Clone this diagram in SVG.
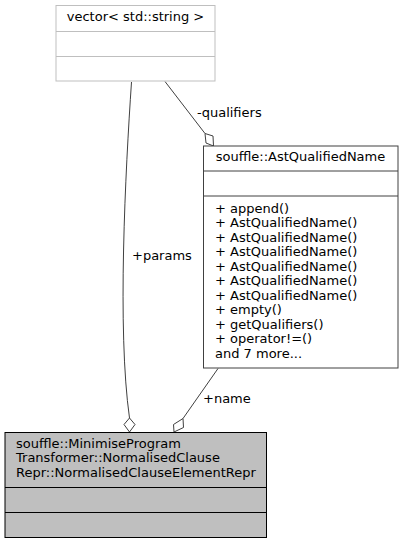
<svg xmlns="http://www.w3.org/2000/svg" width="401" height="544" viewBox="0 0 401 544">
<style>
text{font-family:"DejaVu Sans",sans-serif;font-size:13px;fill:#000}
.c{text-anchor:middle}
.box{fill:#fff;stroke:#404040;stroke-width:1}
.grey{fill:#fff;stroke:#bfbfbf;stroke-width:1}
.main{fill:#bfbfbf;stroke:#000;stroke-width:1}
.edge{fill:none;stroke:#404040;stroke-width:1}
.dia{fill:#fff;stroke:#404040;stroke-width:1}
</style>
<rect width="401" height="544" fill="#fff"/>
<g id="edges">
<path class="edge" d="M131.5,82 C125.5,170 117,330 129.5,418"/>
<polygon class="dia" points="129.5,418 135,424.5 129.5,432 124,424.5"/>
<text x="132" y="260">+params</text>
<path class="edge" d="M165,81.5 L205,133.5"/>
<polygon class="dia" points="205,133.5 213,136 213.5,146 206,143"/>
<text x="197" y="116.5">-qualifiers</text>
<path class="edge" d="M218,368.5 L183,418.5"/>
<polygon class="dia" points="183,418.5 183.5,427.5 174,432 173.5,424.5"/>
<text x="203" y="403">+name</text>
</g>
<g id="node_vector">
<rect class="grey" x="56" y="5.5" width="159" height="75.5"/>
<line class="grey" x1="56" y1="31.5" x2="215" y2="31.5"/>
<line class="grey" x1="56" y1="56.5" x2="215" y2="56.5"/>
<text class="c" x="135.5" y="20.5">vector&lt; std::string &gt;</text>
</g>
<g id="node_AstQualifiedName">
<rect class="box" x="203.5" y="146" width="194.5" height="222"/>
<line class="box" x1="203.5" y1="171" x2="398" y2="171"/>
<line class="box" x1="203.5" y1="196" x2="398" y2="196"/>
<text class="c" x="300.5" y="160.5">souffle::AstQualifiedName</text>
<text x="215" y="212.5">+ append()</text>
<text x="215" y="227">+ AstQualifiedName()</text>
<text x="215" y="241.5">+ AstQualifiedName()</text>
<text x="215" y="256">+ AstQualifiedName()</text>
<text x="215" y="270.5">+ AstQualifiedName()</text>
<text x="215" y="285">+ AstQualifiedName()</text>
<text x="215" y="299.5">+ AstQualifiedName()</text>
<text x="215" y="314">+ empty()</text>
<text x="215" y="328.5">+ getQualifiers()</text>
<text x="215" y="343">+ operator!=()</text>
<text x="215" y="357.5">and 7 more...</text>
</g>
<g id="node_NormalisedClauseElementRepr">
<rect class="main" x="5" y="432.5" width="261.5" height="105"/>
<line class="main" x1="5" y1="487.5" x2="266.5" y2="487.5"/>
<line class="main" x1="5" y1="512.5" x2="266.5" y2="512.5"/>
<text x="16" y="447.5">souffle::MinimiseProgram</text>
<text x="16" y="462">Transformer::NormalisedClause</text>
<text x="16" y="476.5">Repr::NormalisedClauseElementRepr</text>
</g>
</svg>
